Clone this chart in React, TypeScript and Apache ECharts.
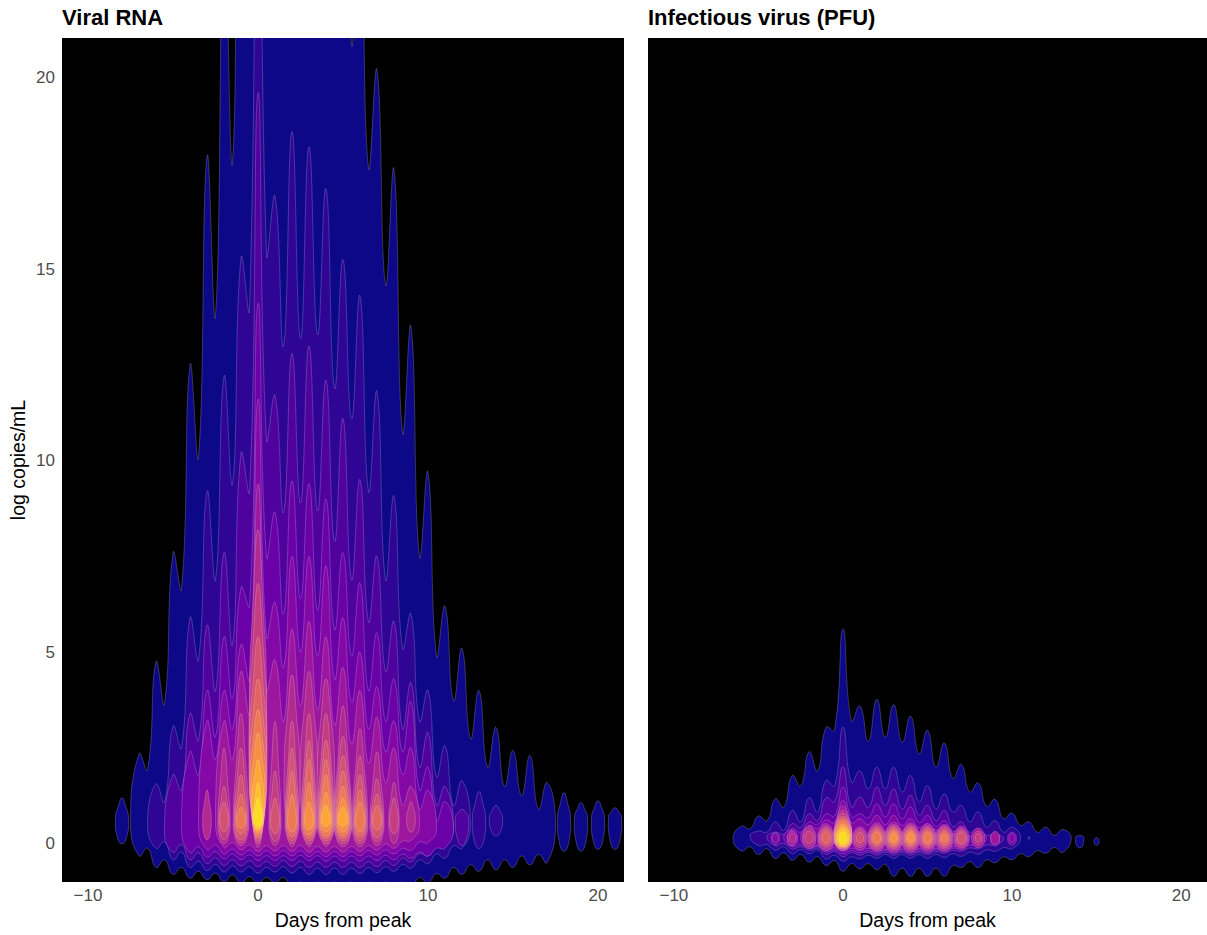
import React, { useEffect, useRef } from "react";
import * as echarts from "echarts";

const FONT = "Liberation Sans";
const panelTitles = ["Viral RNA", "Infectious virus (PFU)"];
const yTicks = [0, 5, 10, 15, 20];
const xTicks = [-10, 0, 10, 20];

// Colours of the filled density levels, lowest to highest.
const levelColors = ["#0d0887", "#2e0595", "#50029f", "#6a00a8", "#8308a6", "#9c179e", "#b12a90", "#c33d80", "#d35171", "#e16462", "#ed7953", "#f68f44", "#fca636", "#fdc028", "#f9dc24"];

// Each band: level, first day of the half-day samples, upper edge, lower edge (log units).
const rnaUpper0 = [0.55, 2.35, 1.93, 4.75, 3.65, 7.6, 6.65, 12.5, 10.1, 17.94, 13.8, 24, 17.8, 30, 30, 30, 30, 30, 30, 30, 30, 30, 30, 30, 30, 30, 20.9, 24, 17.65, 20.2, 14.6, 17.6, 10.74, 13.5, 7.5, 9.7, 4.9, 6.2, 3.73, 5.1, 2.74, 4.0, 2.0, 3.04, 1.49, 2.43, 1.26, 2.3, 0.9, 1.6, 0.55];
const rnaLower0 = [0.55, -0.32, -0.12, -0.62, -0.42, -0.8, -0.62, -0.9, -0.72, -0.94, -0.77, -1, -0.82, -1.02, -0.86, -1.04, -0.88, -1.02, -0.88, -1.12, -1, -1.12, -1, -1.12, -1, -1.12, -1, -1.12, -1, -1.12, -1, -1.12, -1, -1.12, -0.88, -1.02, -0.78, -0.9, -0.62, -0.8, -0.55, -0.72, -0.42, -0.68, -0.42, -0.62, -0.32, -0.55, -0.28, -0.5, 0.55];
const rnaUpper1 = [0.5, 1.56, 1.09, 3.07, 2.5, 5.9, 4.8, 9.2, 6.9, 12.2, 9.4, 15.3, 13.95, 30, 15.4, 16.9, 13, 18.6, 13.2, 18.2, 13.3, 17.1, 11.9, 15.25, 11.1, 14.3, 9.2, 11.8, 6.9, 9.07, 5.1, 6.0, 3.2, 4.0, 1.75, 2.56, 1.0, 1.64, 0.5];
const rnaLower1 = [0.5, -0.12, 0.05, -0.42, -0.22, -0.62, -0.46, -0.7, -0.54, -0.74, -0.58, -0.74, -0.6, -0.77, -0.62, -0.74, -0.6, -0.77, -0.62, -0.8, -0.64, -0.8, -0.64, -0.8, -0.64, -0.78, -0.62, -0.76, -0.6, -0.72, -0.54, -0.64, -0.42, -0.52, -0.27, -0.38, -0.05, -0.12, 0.5];
const rnaUpper2 = [0.3, 1.8, 1.4, 3.4, 2.7, 5.7, 4, 7.6, 5.2, 10.2, 9.2, 19.6, 10.56, 11.7, 8.65, 12.8, 8.9, 13, 8.7, 12.1, 7.9, 11.1, 6.9, 9.5, 5.8, 7.5, 4.5, 5.8, 3, 4.2, 2, 2.9, 1, 1.5, 0.4];
const rnaLower2 = [0.3, -0.22, -0.02, -0.42, -0.24, -0.52, -0.37, -0.57, -0.42, -0.58, -0.44, -0.6, -0.46, -0.59, -0.44, -0.6, -0.46, -0.62, -0.48, -0.62, -0.48, -0.62, -0.48, -0.62, -0.47, -0.6, -0.44, -0.57, -0.38, -0.47, -0.26, -0.32, -0.08, -0.02, 0.4];
const rnaUpper3 = [0.4, 2.4, 1.8, 4.0, 2.8, 5.4, 3.8, 6.7, 6.2, 14.1, 7.5, 8.65, 6, 9.47, 6.4, 9.4, 6.1, 9, 5.6, 7.6, 4.9, 6.8, 4, 5.5, 3.2, 4.3, 2.4, 3.7, 1.4, 2.0, 0.6, 1.1, 0.4];
const rnaLower3 = [0.4, -0.24, -0.08, -0.35, -0.21, -0.4, -0.27, -0.42, -0.29, -0.44, -0.31, -0.44, -0.31, -0.44, -0.3, -0.44, -0.31, -0.46, -0.32, -0.46, -0.32, -0.46, -0.32, -0.44, -0.3, -0.42, -0.27, -0.38, -0.22, -0.32, -0.12, -0.12, 0.4];
const rnaUpper4 = [0.5, 3.2, 2.2, 4.0, 3, 5.2, 4.3, 11.6, 5.4, 6.3, 4.6, 7.5, 5, 7.5, 4.9, 7.25, 4.3, 5.9, 3.7, 5, 3, 4.1, 2.4, 3.2, 1.8, 2.5, 0.9, 1.4, 0.4];
const rnaLower4 = [0.5, -0.16, -0.03, -0.27, -0.14, -0.3, -0.17, -0.32, -0.18, -0.32, -0.18, -0.32, -0.18, -0.34, -0.2, -0.34, -0.2, -0.34, -0.2, -0.32, -0.18, -0.3, -0.16, -0.27, -0.12, -0.17, 0.04, 0.03, 0.4];
const rnaUpper5 = [0.6, 3.2, 2.2, 4.5, 3.4, 9.4, 4, 4.8, 3.2, 5.6, 3.6, 5.8, 3.5, 5.4, 3.1, 4.6, 2.6, 4, 2.1, 3.3, 1.6, 2.5, 1, 1.5, 0.5];
const rnaLower5 = [0.6, -0.1, 0.03, -0.16, -0.03, -0.2, -0.05, -0.19, -0.05, -0.2, -0.05, -0.22, -0.07, -0.22, -0.07, -0.22, -0.07, -0.2, -0.05, -0.17, -0.01, -0.12, 0.07, 0.08, 0.5];
const rnaBands: [number, number, number[], number[]][] = [
  [0, -7.5, rnaUpper0, rnaLower0],
  [1, -6.5, rnaUpper1, rnaLower1],
  [2, -5.5, rnaUpper2, rnaLower2],
  [3, -4.5, rnaUpper3, rnaLower3],
  [4, -3.5, rnaUpper4, rnaLower4],
  [5, -2.5, rnaUpper5, rnaLower5],
];
// Each lobe: level, day, low, high.
const rnaLobes: number[][] = [
  [0, -8, 0, 1.2], [0, 18, -0.2, 1.33], [0, 19, -0.2, 1.07], [0, 20, -0.15, 1.12], [0, 21, -0.15, 0.94],
  [1, 13, -0.13, 1.36], [1, 14, 0.2, 1.0], [2, 12, -0.05, 0.9],
  [6, -3, 0.1, 1.4], [6, -2, 0, 2.5], [6, -1, -0.05, 3.4], [6, 0, -0.1, 8.2], [6, 1, -0.05, 3.2], [6, 2, -0.08, 4.4], [6, 3, -0.08, 4.5], [6, 4, -0.08, 4.3], [6, 5, -0.08, 3.6], [6, 6, -0.08, 3], [6, 7, -0.05, 2.4], [6, 8, 0, 1.6], [6, 9, 0.3, 1.1],
  [7, -2, 0.1, 1.5], [7, -1, 0.02, 2.5], [7, 0, 0, 6.8], [7, 1, 0.05, 1.9], [7, 2, 0, 3.2], [7, 3, 0, 3.4], [7, 4, 0, 3.4], [7, 5, 0, 2.8], [7, 6, 0, 2.3], [7, 7, 0.05, 1.7], [7, 8, 0.25, 1.2],
  [8, -2, 0.3, 1.1], [8, -1, 0.1, 1.8], [8, 0, 0.07, 5.4], [8, 1, 0.25, 1.2], [8, 2, 0.08, 2.5], [8, 3, 0.07, 2.7], [8, 4, 0.07, 2.7], [8, 5, 0.07, 2.3], [8, 6, 0.08, 1.8], [8, 7, 0.15, 1.3],
  [9, -1, 0.25, 1.3], [9, 0, 0.14, 4.3], [9, 2, 0.18, 1.9], [9, 3, 0.14, 2.2], [9, 4, 0.14, 2.2], [9, 5, 0.14, 1.9], [9, 6, 0.18, 1.4], [9, 7, 0.35, 1],
  [10, -1, 0.4, 0.95], [10, 0, 0.2, 3.5], [10, 2, 0.3, 1.3], [10, 3, 0.22, 1.6], [10, 4, 0.2, 1.8], [10, 5, 0.2, 1.5], [10, 6, 0.3, 1.1],
  [11, 0, 0.27, 2.9], [11, 3, 0.35, 1.1], [11, 4, 0.3, 1.35], [11, 5, 0.3, 1.2],
  [12, 0, 0.33, 2.2], [12, 4, 0.45, 1.0], [12, 5, 0.45, 0.95],
  [13, 0, 0.38, 1.6], [14, 0, 0.45, 1.2],
];

const pfuUpper0 = [0.13, 0.46, 0.39, 0.72, 0.6, 1.17, 0.95, 1.78, 1.5, 2.4, 1.9, 3.04, 2.96, 5.6, 3.2, 3.6, 2.67, 3.77, 2.78, 3.63, 2.65, 3.33, 2.35, 2.96, 2.0, 2.63, 1.7, 2.07, 1.35, 1.59, 0.97, 1.16, 0.65, 0.8, 0.48, 0.57, 0.3, 0.43, 0.22, 0.37, 0.15];
const pfuLower0 = [0.13, -0.19, -0.08, -0.28, -0.13, -0.39, -0.24, -0.43, -0.28, -0.48, -0.34, -0.57, -0.44, -0.72, -0.52, -0.66, -0.52, -0.68, -0.54, -0.85, -0.64, -0.85, -0.64, -0.85, -0.64, -0.85, -0.57, -0.62, -0.47, -0.62, -0.42, -0.5, -0.34, -0.42, -0.26, -0.34, -0.18, -0.25, -0.1, -0.22, 0.15];
const pfuUpper1 = [0.2, 0.33, 0.3, 0.57, 0.35, 0.87, 0.57, 1.2, 0.83, 1.65, 1.5, 3.04, 1.6, 1.9, 1.43, 2, 1.43, 2, 1.35, 1.78, 1.09, 1.52, 0.91, 1.3, 0.83, 1, 0.57, 0.83, 0.43, 0.6, 0.3, 0.43, 0.15];
const pfuLower1 = [0.2, -0.05, -0.02, -0.17, -0.08, -0.26, -0.15, -0.26, -0.17, -0.4, -0.3, -0.46, -0.34, -0.4, -0.3, -0.38, -0.28, -0.38, -0.28, -0.38, -0.28, -0.38, -0.28, -0.36, -0.26, -0.33, -0.22, -0.27, -0.16, -0.2, -0.1, -0.13, 0.15];
const pfuUpper2 = [0.18, 0.3, 0.25, 0.52, 0.42, 0.78, 0.6, 1.2, 1.1, 2, 0.96, 1.22, 0.95, 1.48, 1, 1.43, 0.9, 1.26, 0.75, 1, 0.6, 0.87, 0.45, 0.57, 0.3, 0.39, 0.22, 0.26, 0.13];
const pfuLower2 = [0.18, -0.05, 0, -0.14, -0.08, -0.17, -0.12, -0.28, -0.2, -0.34, -0.23, -0.3, -0.22, -0.3, -0.22, -0.3, -0.22, -0.3, -0.22, -0.28, -0.21, -0.25, -0.17, -0.2, -0.11, -0.13, -0.03, -0.03, 0.13];
const pfuUpper3 = [0.16, 0.39, 0.3, 0.57, 0.5, 0.78, 0.72, 1.48, 0.7, 0.78, 0.68, 1.04, 0.7, 1.04, 0.65, 0.96, 0.55, 0.74, 0.45, 0.6, 0.33, 0.39, 0.2, 0.26, 0.14];
const pfuLower3 = [0.16, -0.08, -0.03, -0.12, -0.08, -0.22, -0.16, -0.27, -0.18, -0.24, -0.18, -0.25, -0.18, -0.25, -0.18, -0.25, -0.18, -0.24, -0.16, -0.2, -0.12, -0.13, -0.04, -0.03, 0.14];
const pfuUpper4 = [0.16, 0.47, 0.4, 0.62, 0.55, 1.13, 0.55, 0.65, 0.5, 0.74, 0.5, 0.74, 0.48, 0.65, 0.42, 0.52, 0.36, 0.43, 0.27, 0.3, 0.13];
const pfuLower4 = [0.16, -0.1, -0.05, -0.17, -0.11, -0.2, -0.12, -0.18, -0.12, -0.2, -0.14, -0.21, -0.14, -0.21, -0.13, -0.19, -0.12, -0.15, -0.08, -0.07, 0.13];
const pfuBands: [number, number, number[], number[]][] = [
  [0, -6.5, pfuUpper0, pfuLower0],
  [1, -5.5, pfuUpper1, pfuLower1],
  [2, -4.5, pfuUpper2, pfuLower2],
  [3, -3.5, pfuUpper3, pfuLower3],
  [4, -2.5, pfuUpper4, pfuLower4],
];
const pfuLobes: number[][] = [
  [0, 14, -0.11, 0.22], [0, 15, -0.04, 0.16],
  [1, 11, 0.12, 0.19],
  [3, -4, -0.02, 0.3], [3, 9, -0.06, 0.3], [3, 10, -0.04, 0.3],
  [4, -3, -0.05, 0.36], [4, -4, 0.03, 0.27], [4, 8, -0.03, 0.33], [4, 9, 0, 0.3], [4, 10, 0.03, 0.27],
  [5, -3, -0.04, 0.33], [5, -2, -0.12, 0.47], [5, -1, -0.18, 0.52], [5, 0, -0.18, 0.98], [5, 1, -0.15, 0.44], [5, 2, -0.2, 0.55], [5, 3, -0.22, 0.56], [5, 4, -0.22, 0.54], [5, 5, -0.2, 0.52], [5, 6, -0.2, 0.5], [5, 7, -0.15, 0.46], [5, 8, -0.1, 0.41], [5, 9, -0.02, 0.32],
  [6, -3, 0.03, 0.28], [6, -2, -0.07, 0.42], [6, -1, -0.14, 0.47], [6, 0, -0.16, 0.88], [6, 1, -0.1, 0.4], [6, 2, -0.16, 0.5], [6, 3, -0.17, 0.5], [6, 4, -0.17, 0.5], [6, 5, -0.15, 0.47], [6, 6, -0.15, 0.46], [6, 7, -0.1, 0.4], [6, 8, -0.04, 0.33],
  [7, -2, 0.01, 0.34], [7, -1, -0.09, 0.43], [7, 0, -0.14, 0.8], [7, 1, -0.05, 0.36], [7, 2, -0.12, 0.45], [7, 3, -0.13, 0.46], [7, 4, -0.13, 0.46], [7, 5, -0.11, 0.43], [7, 6, -0.11, 0.42], [7, 7, -0.05, 0.36], [7, 8, 0.04, 0.27],
  [8, -1, -0.04, 0.38], [8, 0, -0.12, 0.72], [8, 1, 0.02, 0.3], [8, 2, -0.07, 0.41], [8, 3, -0.09, 0.42], [8, 4, -0.09, 0.42], [8, 5, -0.07, 0.39], [8, 6, -0.06, 0.37], [8, 7, 0, 0.31],
  [9, -1, 0.02, 0.32], [9, 0, -0.11, 0.66], [9, 2, -0.03, 0.36], [9, 3, -0.05, 0.38], [9, 4, -0.05, 0.37], [9, 5, -0.03, 0.34], [9, 6, -0.02, 0.32],
  [10, 0, -0.09, 0.6], [10, 2, 0.02, 0.31], [10, 3, -0.01, 0.33], [10, 4, -0.01, 0.33], [10, 5, 0.02, 0.3], [10, 6, 0.04, 0.27],
  [11, 0, -0.08, 0.52], [11, 3, 0.04, 0.28], [11, 4, 0.04, 0.28],
  [12, 0, -0.06, 0.46], [13, 0, -0.04, 0.41], [14, 0, -0.01, 0.32],
];

type Shape = { level: number; pts: number[][] };

function bandShape(band: [number, number, number[], number[]]): Shape {
  const [level, from, upper, lower] = band;
  const pts: number[][] = upper.map((y, i) => [from + i * 0.5, y]);
  for (let i = lower.length - 2; i > 0; i--) pts.push([from + i * 0.5, lower[i]]);
  return { level, pts };
}

function lobeShape(lobe: number[], lobes: number[][], belly: number, base: number, slope: number, upFactor: number): Shape {
  const [level, day, low, high] = lobe;
  const dayPeak = Math.max(...lobes.filter((l) => l[1] === day).map((l) => l[0]));
  const cap = level <= 2 ? 0.38 : Math.min(0.5, base + slope * (dayPeak - level));
  const w = Math.min(cap, (high - low) * 0.75);
  const b = belly > low + (high - low) * 0.2 && belly < high - (high - low) * 0.2 ? belly : (low + high) / 2;
  const up = b + (high - b) * 0.5;
  const dn = low + (b - low) * 0.3;
  return {
    level,
    pts: [[day, high], [day + w * upFactor, up], [day + w, b], [day + w * 0.78, dn], [day, low], [day - w * 0.78, dn], [day - w, b], [day - w * upFactor, up]],
  };
}

function densitySeries(bands: any[], lobes: number[][], belly: number, base: number, slope: number, upFactor: number, axis: number) {
  const shapes: Shape[] = [
    ...bands.map(bandShape),
    ...lobes.map((l) => lobeShape(l, lobes, belly, base, slope, upFactor)),
  ].map((s, i) => ({ ...s, i })).sort((a: any, b: any) => a.level - b.level || a.i - b.i);
  return {
    type: "custom",
    coordinateSystem: "cartesian2d",
    xAxisIndex: axis,
    yAxisIndex: axis,
    clip: true,
    silent: true,
    data: shapes.map((s) => s.pts[0]),
    renderItem: (params: any, api: any) => {
      const s = shapes[params.dataIndex];
      return {
        type: "polygon",
        shape: { points: s.pts.map((p) => api.coord(p)), smooth: 0.5 },
        style: { fill: levelColors[s.level], stroke: "rgba(255,255,255,0.33)", lineWidth: 0.6 },
      };
    },
  };
}

const minusLabel = (v: number) => (v < 0 ? "\u2212" + Math.abs(v) : String(v));

function xAxis(gridIndex: number) {
  return {
    type: "value",
    gridIndex,
    min: -11.53,
    max: 21.53,
    name: "Days from peak",
    nameLocation: "middle",
    nameGap: 28,
    nameTextStyle: { color: "#000", fontSize: 19.5, fontFamily: FONT },
    axisLine: { show: false },
    axisTick: { show: false },
    splitLine: { show: false },
    axisLabel: { color: "#4d4d4d", fontSize: 17, fontFamily: FONT, margin: 5, customValues: xTicks, formatter: minusLabel },
  };
}

function yAxis(gridIndex: number) {
  return {
    type: "value",
    gridIndex,
    min: -1,
    max: 21.04,
    name: gridIndex === 0 ? "log copies/mL" : "",
    nameLocation: "middle",
    nameGap: 34,
    nameTextStyle: { color: "#000", fontSize: 19.5, fontFamily: FONT },
    axisLine: { show: false },
    axisTick: { show: false },
    splitLine: { show: false },
    axisLabel: { show: gridIndex === 0, color: "#4d4d4d", fontSize: 17, fontFamily: FONT, margin: 7, customValues: yTicks, formatter: minusLabel },
  };
}

export default function App() {
  const ref = useRef<HTMLDivElement>(null);
  useEffect(() => {
    if (!ref.current) return;
    const chart = echarts.init(ref.current, undefined, { renderer: "svg" });
    chart.setOption({
      animation: false,
      backgroundColor: "#fff",
      title: panelTitles.map((text, i) => ({
        text,
        left: i === 0 ? 62 : 648,
        top: 6,
        padding: 0,
        textStyle: { color: "#000", fontSize: 22, fontWeight: "bold", fontFamily: FONT },
      })),
      grid: [
        { left: 62, top: 38, width: 562, height: 846, show: true, backgroundColor: "#000", borderWidth: 0 },
        { left: 648, top: 38, width: 562, height: 846, show: true, backgroundColor: "#000", borderWidth: 0 },
      ],
      xAxis: [xAxis(0), xAxis(1)],
      yAxis: [yAxis(0), yAxis(1)],
      series: [densitySeries(rnaBands, rnaLobes, 0.7, 0.25, 0.05, 0.62, 0), densitySeries(pfuBands, pfuLobes, 0.15, 0.3, 0.045, 0.86, 1)],
    });
    return () => chart.dispose();
  }, []);
  return <div ref={ref} style={{ position: "fixed", left: 0, top: 0, width: 1207, height: 935 }} />;
}
